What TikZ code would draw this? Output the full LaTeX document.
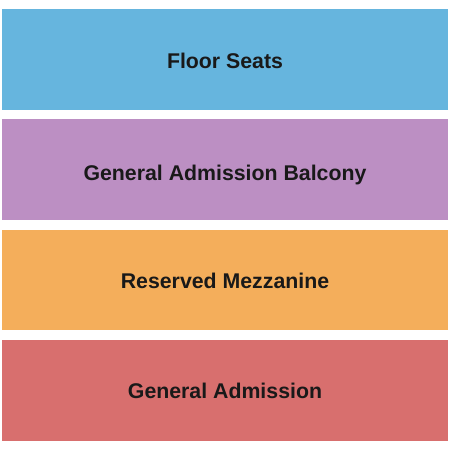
\documentclass[tikz,border=0pt]{standalone}
\usepackage{fontspec}
\setmainfont{Liberation Sans}
\definecolor{floorblue}{HTML}{66B5DE}
\definecolor{balconypurple}{HTML}{BC8FC3}
\definecolor{mezzorange}{HTML}{F4AE5B}
\definecolor{gared}{HTML}{D86F6E}
\tikzset{
  section/.style={minimum width=446pt, minimum height=101pt, inner sep=0pt},
  sectionname/.style={inner sep=0pt, font=\fontsize{21.3}{25}\selectfont\bfseries, text=black!90},
}
\begin{document}
\begin{tikzpicture}[x=1pt,y=-1pt]
      \useasboundingbox[fill=white] (0,0) rectangle (450,450);
      \draw
        (225,59.5) node[section, fill=floorblue] (floor){}
        (225,169.5) node[section, fill=balconypurple] (balcony){}
        (225,280) node[section, fill=mezzorange, minimum height=100pt] (mezz){}
        (225,390.5) node[section, fill=gared] (ga){};
      \node[sectionname] (floorname) at ([yshift=-1.5pt]floor.center) {Floor Seats};
      \node[sectionname] (balconyname) at ([yshift=-5.5pt]balcony.center) {General Admission Balcony};
      \node[sectionname] (mezzname) at ([yshift=-0.5pt]mezz.center) {Reserved Mezzanine};
      \node[sectionname] (ganame) at (ga.center) {General Admission};
    \end{tikzpicture}
\end{document}
